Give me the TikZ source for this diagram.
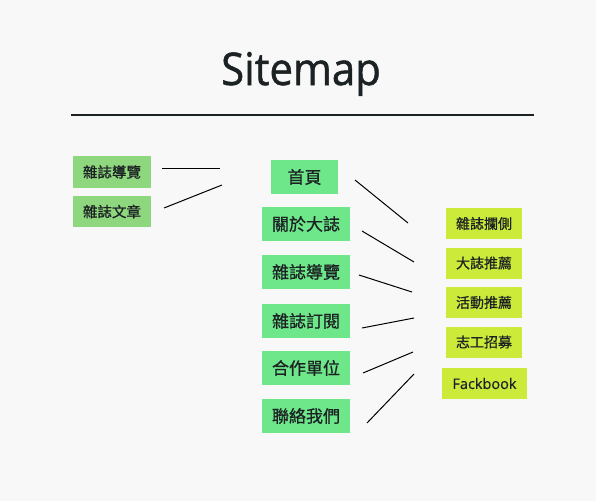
\documentclass[tikz,border=0pt]{standalone}
\usepackage{fontspec}
\setmainfont{Open Sans}
\newfontfamily\titlefont[FakeBold=1.2]{Open Sans}
\newfontfamily\latinbox[FakeBold=0.6]{Open Sans}
\newfontfamily\cjk[FakeBold=0.8]{Noto Sans CJK TC}
\definecolor{bgc}{HTML}{F8F8F8}
\definecolor{leftg}{HTML}{8ED77E}
\definecolor{midg}{HTML}{6EE68A}
\definecolor{rightg}{HTML}{CBEA3A}
\definecolor{ink}{HTML}{1C2224}
\tikzset{
  box/.style={fill=#1, inner sep=0pt, text=ink},
  leftbox/.style={box=leftg, minimum width=78pt, minimum height=32pt, font=\cjk\fontsize{14.5}{16}\selectfont},
  midbox/.style={box=midg, minimum width=88pt, minimum height=34pt, font=\cjk\fontsize{17}{19}\selectfont},
  rightbox/.style={box=rightg, minimum width=76pt, minimum height=31pt, font=\cjk\fontsize{14}{16}\selectfont},
  link/.style={draw=black, line width=1pt}
}
\begin{document}
\begin{tikzpicture}[x=1pt,y=-1pt]
\fill[bgc] (0,0) rectangle (596,501);
\useasboundingbox (0,0) rectangle (596,501);
\node[anchor=base, text=ink, xscale=0.93, font=\titlefont\fontsize{45}{50}\selectfont] (title) at (301,85) {Sitemap};
\coordinate (r1) at (71,115);
\coordinate (r2) at (534,115);
\draw[ink, line width=1.8pt] (r1) -- (r2);

\node[leftbox] (l1) at (112,172) {雜誌導覽};
\node[leftbox, minimum height=31pt] (l2) at (112,211.5) {雜誌文章};

\node[midbox, minimum width=67pt] (m0) at (304.5,177) {首頁};
\node[midbox] (m1) at (306,224) {關於大誌};
\node[midbox] (m2) at (306,272) {雜誌導覽};
\node[midbox] (m3) at (306,321) {雜誌訂閱};
\node[midbox] (m4) at (306,368) {合作單位};
\node[midbox] (m5) at (306,416) {聯絡我們};

\node[rightbox] (r1b) at (484,223.5) {雜誌攔側};
\node[rightbox] (r2b) at (484,263) {大誌推薦};
\node[rightbox] (r3b) at (484,302.5) {活動推薦};
\node[rightbox] (r4b) at (484,342) {志工招募};
\node[rightbox, minimum width=85pt, font=\latinbox\fontsize{14.5}{16}\selectfont] (r5b) at (484.5,383.5) {Fackbook};

\coordinate (a1) at (162,168); \coordinate (b1) at (220,168);
\coordinate (a2) at (164,208); \coordinate (b2) at (222,185);
\draw[link] (a1) -- (b1);
\draw[link] (a2) -- (b2);

\coordinate (c0) at (355,180); \coordinate (d0) at (408,223);
\coordinate (c1) at (362,231); \coordinate (d1) at (414,262);
\coordinate (c2) at (359,275); \coordinate (d2) at (412,292);
\coordinate (c3) at (362,328); \coordinate (d3) at (414,318);
\coordinate (c4) at (363,373); \coordinate (d4) at (413,352);
\coordinate (c5) at (367,423); \coordinate (d5) at (414,374);
\foreach \i in {0,...,5} {\draw[link] (c\i) -- (d\i);}
\end{tikzpicture}
\end{document}
